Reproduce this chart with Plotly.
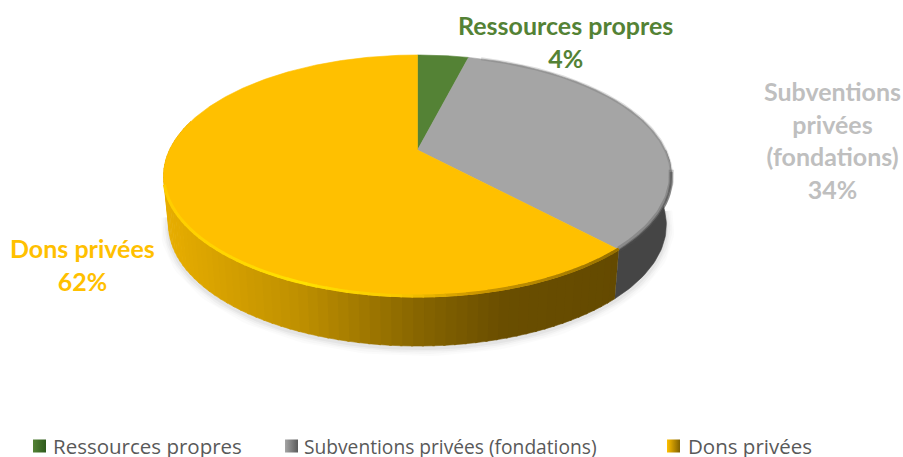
import numpy as np
import plotly.graph_objects as go

categories = ["Ressources propres", "Subventions privées (fondations)", "Dons privées"]
values = [4, 34, 62]
top_colors = ["#548235", "#A5A5A5", "#FFC000"]
side_colors = ["#2F4A1E", "#454545", None]
label_colors = ["#548235", "#BFBFBF", "#FFC000"]
label_texts = ["Ressources propres<br>4%", "Subventions<br>privées<br>(fondations)<br>34%", "Dons privées<br>62%"]
label_pos = [(565, 41), (832, 140), (82, 264)]
legend_marker_x = [39.5, 291.5, 673.5]
legend_text_x = [51, 302, 686]
legend_sizes = [20.5, 19.2, 20.5]
LEGEND_Y = 446

# Projection of the pie disc into the page (perspective tilt)
CX, CY, K, B, C = 417.5, 150, 248, -83.2, 0.2149
DEPTH, NARROW = 49, 0.98


def proj(theta_deg):
    t = np.radians(theta_deg)
    u, v = np.sin(t), np.cos(t)
    d = 1 + C * v
    return CX + K * u / d, (CY + B * v) / d


def proj_low(theta_deg):
    x, y = proj(theta_deg)
    return CX + (x - CX) * NARROW, y + DEPTH


def rgb(c):
    return "rgb(%d,%d,%d)" % tuple(int(round(a)) for a in c)


def side_shade(x):
    xs = [165, 300, 417, 500, 620]
    st = [(232, 174, 0), (190, 143, 0), (135, 101, 0), (106, 78, 0), (100, 74, 0)]
    return tuple(np.interp(x, xs, [s[i] for s in st]) for i in range(3))


def rim_shade(x):
    xs = [165, 300, 400, 470, 620]
    st = [(255, 205, 0), (255, 225, 0), (250, 200, 0), (205, 152, 0), (150, 112, 0)]
    return tuple(np.interp(x, xs, [s[i] for s in st]) for i in range(3))


fig = go.Figure()


def poly(xs, ys, color):
    fig.add_trace(go.Scatter(x=xs, y=ys, mode="lines", fill="toself", fillcolor=color,
                             line=dict(color=color, width=0.6), hoverinfo="skip", showlegend=False))


def line(xs, ys, color, width):
    fig.add_trace(go.Scatter(x=xs, y=ys, mode="lines", line=dict(color=color, width=width, shape="linear"),
                             hoverinfo="skip", showlegend=False))


ends = np.cumsum(values) / sum(values) * 360
starts = np.concatenate([[0], ends[:-1]])

# soft shadow under the disc
th = np.linspace(95, 262, 120)
sx, sy = proj_low(th)
for w, a in [(16, 0.03), (12, 0.04), (8, 0.06), (4, 0.08)]:
    line(sx, sy + 2, "rgba(120,120,120,%g)" % a, w)

# side wall
th = np.linspace(90, starts[2], 40)
x1, y1 = proj(th)
x2, y2 = proj_low(th)
poly(np.r_[x1, x2[::-1]], np.r_[y1, y2[::-1]], side_colors[1])
edges = np.arange(starts[2], 286, 2.0)
for a, b in zip(edges[:-1], edges[1:]):
    th = np.array([a, b + 0.4])
    x1, y1 = proj(th)
    x2, y2 = proj_low(th)
    poly(np.r_[x1, x2[::-1]], np.r_[y1, y2[::-1]], rgb(side_shade((x1.mean() + x2.mean()) / 2)))

# top of the disc
for s, e, col in zip(starts, ends, top_colors):
    th = np.linspace(s, e, max(int(e - s), 4) * 2)
    x, y = proj(th)
    poly(np.r_[CX, x, CX], np.r_[CY, y, CY], col)

# rim bevels
th = np.linspace(18, 100, 80)
x, y = proj(th)
line(x, y, "rgba(70,70,70,0.18)", 3)
th = np.linspace(100, starts[2], 40)
x, y = proj(th)
line(x, y - 1, "rgba(75,75,75,0.30)", 5)
line(x, y + 1, "rgba(75,75,75,0.55)", 3)
edges = np.arange(starts[2], 254, 2.0)
for a, b in zip(edges[:-1], edges[1:]):
    th = np.array([a, b + 0.3])
    x, y = proj(th)
    line(x, y - 1, rgb(rim_shade(x.mean())), 3)

# legend entries
marker_dark = ["#2E5A1C", "#5A5A5A", "#7F6000"]
for cat, col, dark, mx, tx, fs in zip(categories, top_colors, marker_dark, legend_marker_x, legend_text_x, legend_sizes):
    fig.add_trace(go.Scatter(x=[mx], y=[LEGEND_Y], mode="markers", name=cat,
                             marker=dict(symbol="square", size=13, color=col,
                                         gradient=dict(type="horizontal", color=dark)),
                             hoverinfo="skip", showlegend=False))
    fig.add_annotation(x=tx, y=LEGEND_Y, text=cat, showarrow=False, xanchor="left", yanchor="middle",
                       font=dict(family="Open Sans", size=fs, color="#595959"))

for txt, col, (lx, ly) in zip(label_texts, label_colors, label_pos):
    fig.add_annotation(x=lx, y=ly, text="<b>%s</b>" % txt, showarrow=False, align="center",
                       font=dict(family="Lato", size=25, color=col))

fig.update_layout(
    width=903, height=457, margin=dict(l=0, r=0, t=0, b=0),
    paper_bgcolor="white", plot_bgcolor="white",
    xaxis=dict(range=[0, 903], visible=False, fixedrange=True),
    yaxis=dict(range=[457, 0], visible=False, fixedrange=True),
    showlegend=False,
)
fig.write_html("out.html", config={"displayModeBar": False},
               post_script="document.body.style.margin='0';document.documentElement.style.overflow='hidden';")
